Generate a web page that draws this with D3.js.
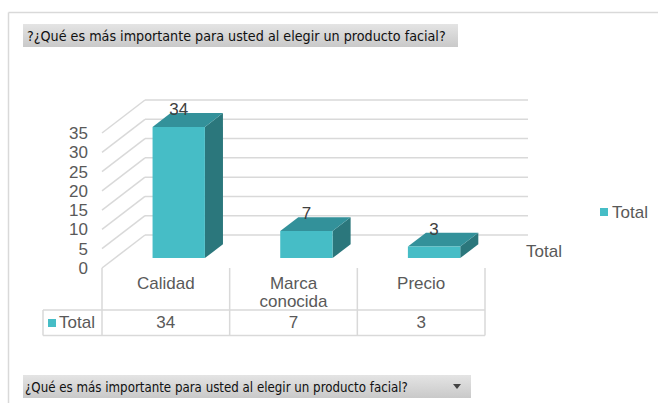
<!DOCTYPE html>
<html>
<head>
<meta charset="utf-8">
<script src="https://cdn.jsdelivr.net/npm/d3@7"></script>
<style>
  html, body { margin: 0; padding: 0; background: #fff; }
  svg { display: block; }
</style>
</head>
<body>
<svg id="chart" width="658" height="403"></svg>
<script>
const categories = ['Calidad', 'Marca conocida', 'Precio'];
const values = [34, 7, 3];
const yTicks = [0, 5, 10, 15, 20, 25, 30, 35];
const seriesName = 'Total';
const titleText = '?¿Qué es más importante para usted al elegir un producto facial?';
const filterText = '¿Qué es más importante para usted al elegir un producto facial?';

const svg = d3.select('#chart');
const gray = '#595959';
const lineGray = '#d9d9d9';
const font = '"Liberation Sans", Arial, sans-serif';
const boxFont = '"DejaVu Sans Condensed", Tahoma, sans-serif';

// 3D depth offset of the back wall
const depth = { dx: 43, dy: -33 };
const barDepth = [0.3, 0.72];

const x = d3.scaleBand().domain(categories).range([102, 485]).paddingInner(0).paddingOuter(0);
const y = d3.scaleLinear().domain([0, 35]).range([268, 133]);

const defs = svg.append('defs');
const grad = defs.append('linearGradient').attr('id', 'boxGrad').attr('x1', 0).attr('y1', 0).attr('x2', 0).attr('y2', 1);
grad.append('stop').attr('offset', '0%').attr('stop-color', '#e4e4e4');
grad.append('stop').attr('offset', '100%').attr('stop-color', '#c9c9c9');

// outer frame
svg.append('line').attr('x1', 8.5).attr('y1', 12.5).attr('x2', 658).attr('y2', 12.5)
  .attr('stroke', lineGray).attr('stroke-width', 1.5);
svg.append('line').attr('x1', 8.5).attr('y1', 12.5).attr('x2', 8.5).attr('y2', 403)
  .attr('stroke', lineGray).attr('stroke-width', 1.5);

// title box
svg.append('rect').attr('x', 23).attr('y', 24).attr('width', 435).attr('height', 23).attr('fill', 'url(#boxGrad)');
svg.append('text').attr('x', 27).attr('y', 40.5).text(titleText)
  .attr('font-family', boxFont).attr('font-size', 14.2).attr('fill', '#111');

// back wall gridlines + side wall diagonals
const grid = svg.append('g');
yTicks.forEach(v => {
  const yf = y(v);
  grid.append('line')
    .attr('x1', x.range()[0]).attr('y1', yf)
    .attr('x2', x.range()[0] + depth.dx).attr('y2', yf + depth.dy)
    .attr('stroke', lineGray).attr('stroke-width', 1.5);
  grid.append('line')
    .attr('x1', x.range()[0] + depth.dx).attr('y1', yf + depth.dy)
    .attr('x2', x.range()[1] + depth.dx).attr('y2', yf + depth.dy)
    .attr('stroke', lineGray).attr('stroke-width', 1.5);
});

// y tick labels
svg.append('g').selectAll('text').data(yTicks).join('text')
  .attr('x', 88).attr('y', d => y(d) + 6)
  .attr('text-anchor', 'end')
  .attr('font-family', font).attr('font-size', 17).attr('fill', gray)
  .text(d => d);

// 3D bars
const barW = x.bandwidth() * 0.41;
const bars = svg.append('g').selectAll('g').data(categories.map((c, i) => ({ c, v: values[i] }))).join('g');
const pt = (px, py, f) => [px + depth.dx * f, py + depth.dy * f];
bars.each(function (d) {
  const g = d3.select(this);
  const x0 = x(d.c) + (x.bandwidth() - barW) / 2;
  const x1 = x0 + barW;
  const yb = y(0), yt = y(d.v);
  const [f0, f1] = barDepth;
  const poly = pts => pts.map(p => p.join(',')).join(' ');
  // side
  g.append('polygon').attr('points', poly([pt(x1, yb, f0), pt(x1, yb, f1), pt(x1, yt, f1), pt(x1, yt, f0)]))
    .attr('fill', '#2b777c');
  // top
  g.append('polygon').attr('points', poly([pt(x0, yt, f0), pt(x1, yt, f0), pt(x1, yt, f1), pt(x0, yt, f1)]))
    .attr('fill', '#33919a');
  // front
  g.append('polygon').attr('points', poly([pt(x0, yb, f0), pt(x1, yb, f0), pt(x1, yt, f0), pt(x0, yt, f0)]))
    .attr('fill', '#46bdc6');
  const [lx, ly] = pt((x0 + x1) / 2, yt, f0);
  g.append('text').attr('x', lx).attr('y', ly - 12)
    .attr('text-anchor', 'middle')
    .attr('font-family', font).attr('font-size', 17).attr('fill', '#404040')
    .text(d.v);
});

// data table
const table = svg.append('g').attr('stroke', lineGray).attr('stroke-width', 1.5);
table.append('line').attr('x1', 43).attr('y1', 310).attr('x2', 485).attr('y2', 310);
table.append('line').attr('x1', 43).attr('y1', 335.5).attr('x2', 485).attr('y2', 335.5);
table.append('line').attr('x1', 43).attr('y1', 310).attr('x2', 43).attr('y2', 335.5);
[...categories.map(c => x(c)), x.range()[1]].forEach(xv => {
  table.append('line').attr('x1', xv).attr('y1', 268).attr('x2', xv).attr('y2', 335.5);
});

const catLabels = svg.append('g').selectAll('text').data(categories).join('text')
  .attr('x', d => x(d) + x.bandwidth() / 2)
  .attr('y', 289)
  .attr('text-anchor', 'middle')
  .attr('font-family', font).attr('font-size', 17).attr('fill', gray);
catLabels.each(function (d) {
  const words = d.split(' ');
  const t = d3.select(this);
  words.forEach((w, i) => {
    t.append('tspan').attr('x', x(d) + x.bandwidth() / 2).attr('dy', i === 0 ? 0 : 18).text(w);
  });
});

svg.append('g').selectAll('text').data(values).join('text')
  .attr('x', (d, i) => x(categories[i]) + x.bandwidth() / 2)
  .attr('y', 328)
  .attr('text-anchor', 'middle')
  .attr('font-family', font).attr('font-size', 17).attr('fill', gray)
  .text(d => d);

svg.append('rect').attr('x', 48).attr('y', 319).attr('width', 8).attr('height', 8).attr('fill', '#46bdc6');
svg.append('text').attr('x', 59).attr('y', 328)
  .attr('font-family', font).attr('font-size', 17).attr('fill', gray).text(seriesName);

// axis title
svg.append('text').attr('x', 526).attr('y', 257)
  .attr('font-family', font).attr('font-size', 17).attr('fill', gray).text(seriesName);

// legend
svg.append('rect').attr('x', 600).attr('y', 208).attr('width', 8).attr('height', 8).attr('fill', '#46bdc6');
svg.append('text').attr('x', 612).attr('y', 218)
  .attr('font-family', font).attr('font-size', 17).attr('fill', gray).text(seriesName);

// filter box
svg.append('rect').attr('x', 23).attr('y', 375).attr('width', 448).attr('height', 23).attr('fill', 'url(#boxGrad)');
svg.append('text').attr('x', 25).attr('y', 391.5).text(filterText)
  .attr('font-family', boxFont).attr('font-size', 13.2).attr('fill', '#111');
svg.append('path').attr('d', 'M453,384 L461,384 L457,389 Z').attr('fill', '#444');
</script>
</body>
</html>
